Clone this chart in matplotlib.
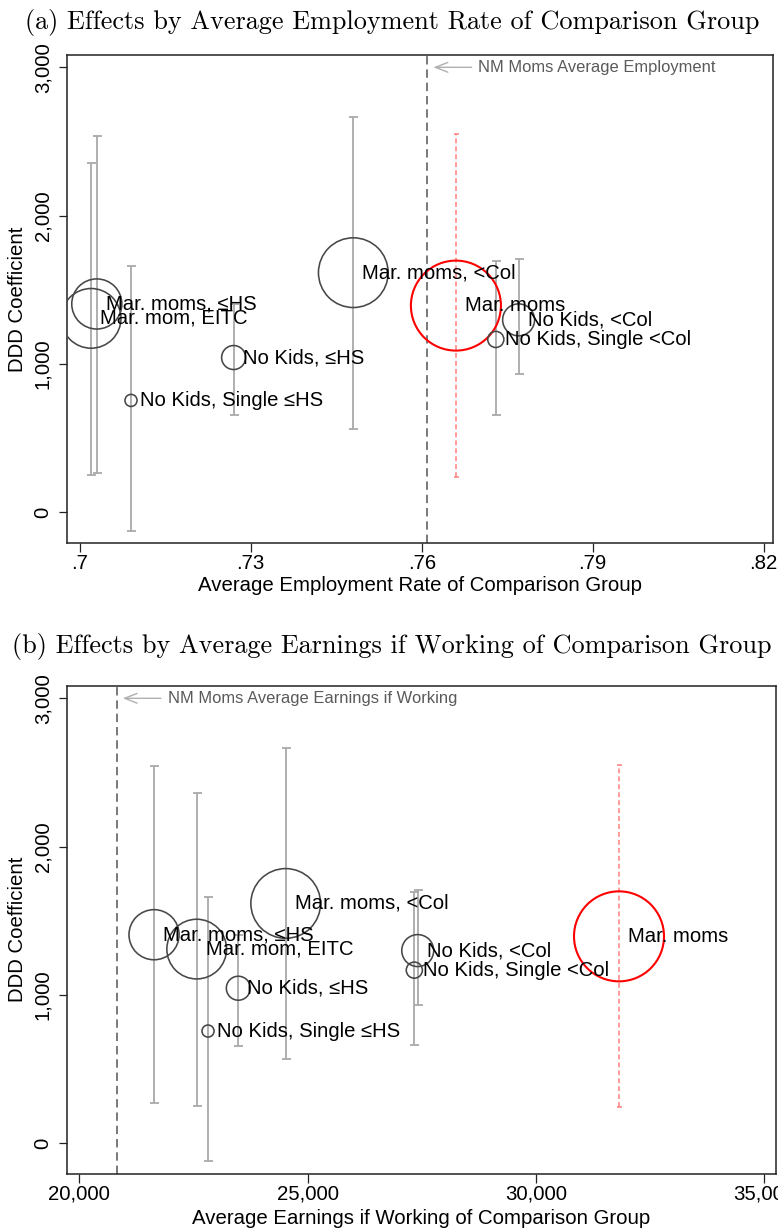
import numpy as np
import matplotlib
matplotlib.use("Agg")
import matplotlib.pyplot as plt

plt.rcParams["font.family"] = ["Liberation Sans", "DejaVu Sans"]

# ---- data -------------------------------------------------------------
groups = [
    "Mar. moms, \u2264HS",
    "Mar. mom, EITC",
    "No Kids, Single \u2264HS",
    "No Kids, \u2264HS",
    "Mar. moms, <Col",
    "Mar. moms",
    "No Kids, <Col",
    "No Kids, Single <Col",
]
employment_rate = [0.703, 0.702, 0.709, 0.727, 0.748, 0.766, 0.777, 0.773]
earnings_if_working = [21637, 22572, 22820, 23484, 24522, 31825, 27415, 27340]
ddd_coef = [1405, 1308, 755, 1044, 1616, 1394, 1298, 1166]
ci_low = [267, 251, -124, 654, 565, 240, 931, 660]
ci_high = [2540, 2358, 1662, 1405, 2663, 2548, 1710, 1692]
# relative group weight (marker area)
group_weight = [0.31, 0.44, 0.018, 0.071, 0.60, 1.0, 0.126, 0.032]
main_group = "Mar. moms"

nm_moms_employment = 0.761
nm_moms_earnings = 20819

y_ticks = [0, 1000, 2000, 3000]
y_ticklabels = ["0", "1,000", "2,000", "3,000"]
emp_ticks = [0.70, 0.73, 0.76, 0.79, 0.82]
emp_ticklabels = [".7", ".73", ".76", ".79", ".82"]
earn_ticks = [20000, 25000, 30000, 35000]
earn_ticklabels = ["20,000", "25,000", "30,000", "35,000"]

# ---- figure -----------------------------------------------------------
W, H, DPI = 778, 1231, 100
fig = plt.figure(figsize=(W / DPI, H / DPI), dpi=DPI)

FS = 14.7
FS_POINT = 14.6
GRAY_BAR = "#a9a9a9"
CIRCLE = "#474747"
RED = "#ff0000"
RED_BAR = "#ff8080"
MAX_R_PX = 45.0


def px_to_pt(px):
    return px * 72.0 / DPI


def draw_panel(ax, xvals, ref_x, ref_label, xlim, xticks, xticklabels, xlabel, xlabel_y):
    ax.set_xlim(*xlim)
    ax.set_ylim(-206, 3083)

    ax.axvline(ref_x, color="#555555", lw=1.1, dashes=(5.5, 3.2), zorder=1)

    for x, c, lo, hi, g, w in zip(xvals, ddd_coef, ci_low, ci_high, groups, group_weight):
        main = g == main_group
        eb = ax.errorbar(
            [x], [c], yerr=[[c - lo], [hi - c]], fmt="none",
            ecolor=RED_BAR if main else GRAY_BAR,
            elinewidth=1.1 if main else 1.3,
            capsize=px_to_pt(2.5) if main else px_to_pt(4.5),
            capthick=1.1 if main else 1.3, zorder=2,
        )
        if main:
            eb[2][0].set_linestyle((0, (3.2, 2.0)))
        r_pt = px_to_pt(MAX_R_PX * np.sqrt(w))
        ax.scatter([x], [c], s=(2 * r_pt) ** 2, facecolors="none",
                   edgecolors=RED if main else CIRCLE,
                   linewidths=1.5 if main else 1.15, zorder=3)
        ax.annotate(g, xy=(x, c), xytext=(px_to_pt(9), 0), textcoords="offset points",
                    ha="left", va="center", fontsize=FS_POINT, color="black", zorder=4)

    ax.annotate(ref_label, xy=(ref_x, 3000), xytext=(px_to_pt(51), 0),
                textcoords="offset points", ha="left", va="center",
                fontsize=11.9, color="#5a5a5a",
                arrowprops=dict(arrowstyle="->,head_length=0.9,head_width=0.35",
                                color="#b0b0b0", lw=1.0, mutation_scale=10,
                                shrinkA=px_to_pt(4), shrinkB=px_to_pt(6)))

    ax.set_yticks(y_ticks)
    ax.set_yticklabels(y_ticklabels, rotation=90, va="center")
    ax.set_xticks(xticks)
    ax.set_xticklabels(xticklabels)
    ax.tick_params(axis="both", direction="out", length=px_to_pt(8.5), width=0.9,
                   labelsize=FS, color="#222222")
    ax.tick_params(axis="y", pad=px_to_pt(6))
    ax.tick_params(axis="x", pad=px_to_pt(3))
    for sp in ax.spines.values():
        sp.set_linewidth(1.1)
        sp.set_color("#222222")

    ax.set_xlabel(xlabel, fontsize=FS)
    ax.xaxis.label.set_va("center")
    ax.xaxis.set_label_coords(0.5, xlabel_y)
    ax.set_ylabel("DDD Coefficient", fontsize=FS)
    ax.yaxis.label.set_va("center")


def axes_rect(left_px, right_px, top_px, bottom_px):
    return [left_px / W, 1 - bottom_px / H, (right_px - left_px) / W, (bottom_px - top_px) / H]


ax_a = fig.add_axes(axes_rect(67, 773, 55, 543))
ax_b = fig.add_axes(axes_rect(67, 776, 686, 1173.5))

draw_panel(ax_a, employment_rate, nm_moms_employment, "NM Moms Average Employment",
           (0.69777, 0.82163), emp_ticks, emp_ticklabels,
           "Average Employment Rate of Comparison Group", (543 - 586) / 488)
draw_panel(ax_b, earnings_if_working, nm_moms_earnings, "NM Moms Average Earnings if Working",
           (19730, 35265), earn_ticks, earn_ticklabels,
           "Average Earnings if Working of Comparison Group", (1173.5 - 1218) / 487.5)

for ax in (ax_a, ax_b):
    ax.yaxis.set_label_coords((18 - 67) / (773 - 67), 0.5)

fig.text(392 / W, 1 - 22 / H, "(a) Effects by Average Employment Rate of Comparison Group",
         family="cmr10", fontsize=18.9, ha="center", va="center")
fig.text(392 / W, 1 - 647 / H, "(b) Effects by Average Earnings if Working of Comparison Group",
         family="cmr10", fontsize=18.9, ha="center", va="center")

fig.savefig("out.png", dpi=DPI)
